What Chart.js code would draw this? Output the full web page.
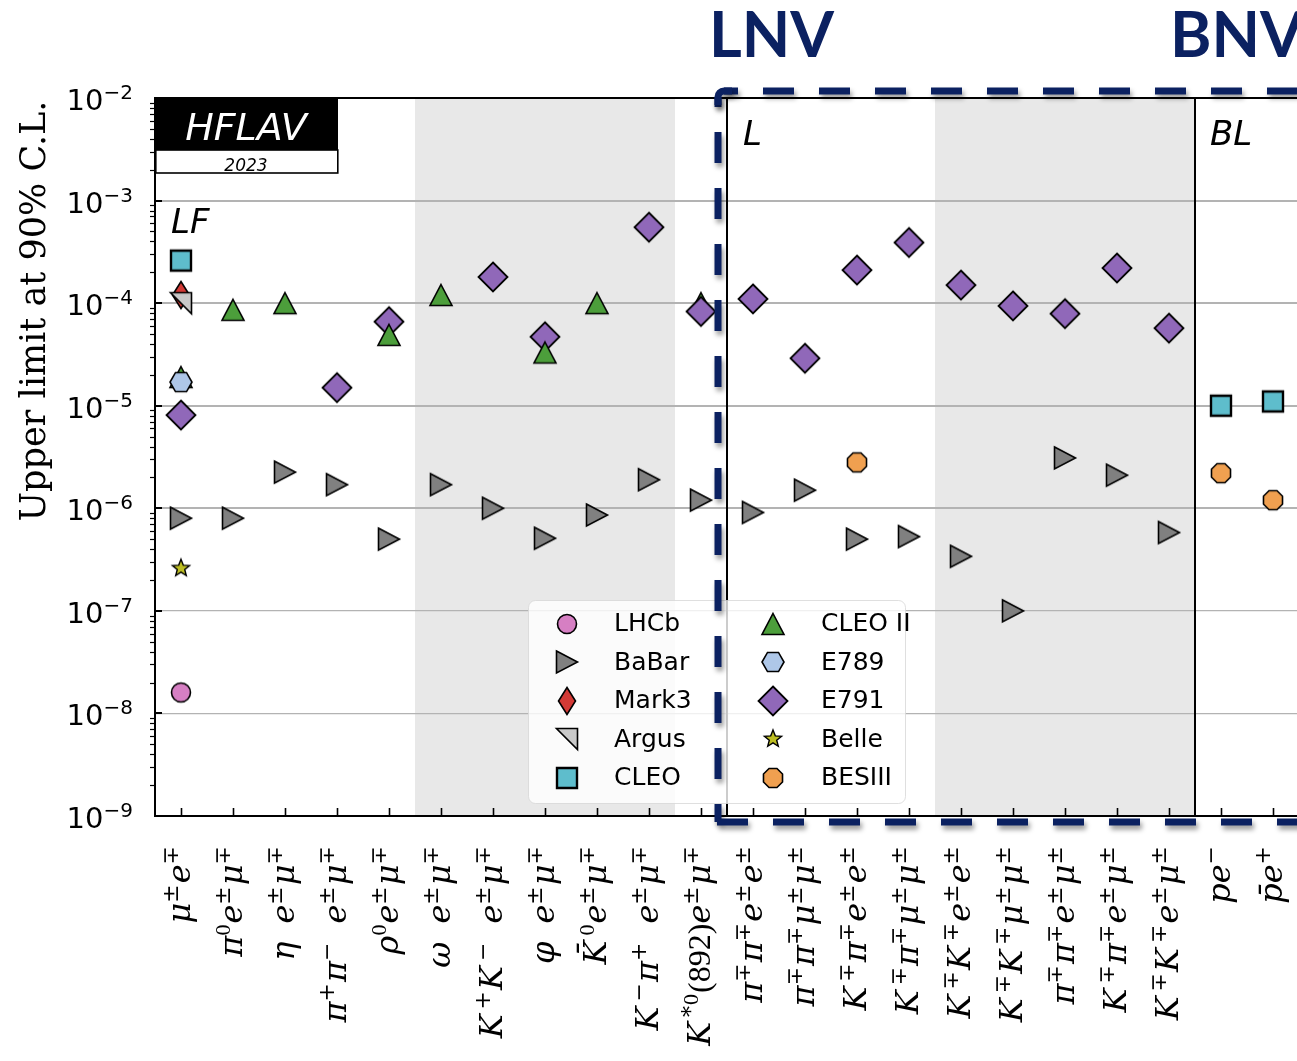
<!DOCTYPE html>
<html>
<head>
<meta charset="utf-8">
<script src="https://cdn.jsdelivr.net/npm/chart.js@4.4.1/dist/chart.umd.min.js"></script>
<style>
  html, body { margin: 0; padding: 0; background: #fff; overflow: hidden; width: 1297px; height: 1061px; }
  canvas { display: block; }
</style>
</head>
<body>
<canvas id="chart" width="1320" height="1061" style="width:1320px;height:1061px"></canvas>
<script>
// ---- Decay modes (x categories), written with ^{...} for superscripts ----
const categories = [
  'μ^{±}e^{∓}', 'π^{0}e^{±}μ^{∓}', 'η e^{±}μ^{∓}', 'π^{+}π^{−} e^{±}μ^{∓}', 'ρ^{0}e^{±}μ^{∓}',
  'ω e^{±}μ^{∓}', 'K^{+}K^{−} e^{±}μ^{∓}', 'φ e^{±}μ^{∓}', 'K̄^{0}e^{±}μ^{∓}', 'K^{−}π^{+} e^{±}μ^{∓}',
  'K^{*0}(892)e^{±}μ^{∓}',
  'π^{∓}π^{∓}e^{±}e^{±}', 'π^{∓}π^{∓}μ^{±}μ^{±}', 'K^{∓}π^{∓}e^{±}e^{±}', 'K^{∓}π^{∓}μ^{±}μ^{±}',
  'K^{∓}K^{∓}e^{±}e^{±}', 'K^{∓}K^{∓}μ^{±}μ^{±}', 'π^{∓}π^{∓}e^{±}μ^{±}', 'K^{∓}π^{∓}e^{±}μ^{±}',
  'K^{∓}K^{∓}e^{±}μ^{±}',
  'pe^{−}', 'p̄e^{+}'
];

// ---- Upper limits at 90% C.L., one array per experiment (null = no measurement) ----
const lhcb   = [1.6e-8, null, null, null, null, null, null, null, null, null, null,
                null, null, null, null, null, null, null, null, null, null, null];
const babar  = [8.0e-7, 8.0e-7, 2.25e-6, 1.7e-6, 5.0e-7, 1.7e-6, 1.0e-6, 5.1e-7, 8.6e-7, 1.9e-6, 1.2e-6,
                9.1e-7, 1.5e-6, 5.0e-7, 5.3e-7, 3.4e-7, 1.0e-7, 3.1e-6, 2.1e-6, 5.8e-7, null, null];
const mark3  = [1.2e-4, null, null, null, null, null, null, null, null, null, null,
                null, null, null, null, null, null, null, null, null, null, null];
const argus  = [1.0e-4, null, null, null, null, null, null, null, null, null, null,
                null, null, null, null, null, null, null, null, null, null, null];
const cleo   = [2.6e-4, null, null, null, null, null, null, null, null, null, null,
                null, null, null, null, null, null, null, null, null, 1.0e-5, 1.1e-5];
const cleo2  = [1.9e-5, 8.6e-5, 1.0e-4, null, 4.9e-5, 1.2e-4, null, 3.3e-5, 1.0e-4, null, null,
                null, null, null, null, null, null, null, null, null, null, null];
// CLEO II K*0 point sits underneath the E791 marker
const cleo2Kstar = [null, null, null, null, null, null, null, null, null, null, 1.0e-4,
                null, null, null, null, null, null, null, null, null, null, null];
const e789   = [1.7e-5, null, null, null, null, null, null, null, null, null, null,
                null, null, null, null, null, null, null, null, null, null, null];
const e791   = [8.1e-6, null, null, 1.5e-5, 6.6e-5, null, 1.8e-4, 4.7e-5, null, 5.5e-4, 8.3e-5,
                1.1e-4, 2.9e-5, 2.1e-4, 3.9e-4, 1.5e-4, 9.4e-5, 7.9e-5, 2.2e-4, 5.7e-5, null, null];
const belle  = [2.6e-7, null, null, null, null, null, null, null, null, null, null,
                null, null, null, null, null, null, null, null, null, null, null];
const besiii = [null, null, null, null, null, null, null, null, null, null, null,
                null, null, 2.8e-6, null, null, null, null, null, null, 2.2e-6, 1.2e-6];

// ---- Axis tick values and labels ----
const decades = [1e-9, 1e-8, 1e-7, 1e-6, 1e-5, 1e-4, 1e-3, 1e-2];
const yTickLabels = ['10^{−9}', '10^{−8}', '10^{−7}', '10^{−6}', '10^{−5}', '10^{−4}', '10^{−3}', '10^{−2}'];
const yTitle = 'Upper limit at 90% C.L.';

// ---- Marker glyphs drawn once into small canvases ----
function makeMarker(shape, fill, lw) {
  const S = 36, c = document.createElement('canvas');
  c.width = S; c.height = S;
  const g = c.getContext('2d');
  g.translate(S / 2, S / 2);
  g.beginPath();
  const poly = pts => { g.moveTo(pts[0][0], pts[0][1]); pts.slice(1).forEach(p => g.lineTo(p[0], p[1])); g.closePath(); };
  switch (shape) {
    case 'circle': g.arc(0, 0, 9.5, 0, Math.PI * 2); break;
    case 'triRight': poly([[-10.5, -11], [10.5, 0], [-10.5, 11]]); break;
    case 'triUp': poly([[0, -10.5], [11, 10.5], [-11, 10.5]]); break;
    case 'thinDiamond': poly([[0, -13.5], [8.5, 0], [0, 13.5], [-8.5, 0]]); break;
    case 'diamond': poly([[0, -14.5], [14.5, 0], [0, 14.5], [-14.5, 0]]); break;
    case 'square': g.rect(-10, -10, 20, 20); break;
    case 'cornerTri': poly([[-10.5, -10.5], [10.5, -10.5], [10.5, 10.5]]); break;
    case 'hexagon': {
      const p = [];
      for (let k = 0; k < 6; k++) { const a = k * Math.PI / 3; p.push([11 * Math.cos(a), 11 * Math.sin(a)]); }
      poly(p); break;
    }
    case 'octagon': {
      const p = [];
      for (let k = 0; k < 8; k++) { const a = Math.PI / 8 + k * Math.PI / 4; p.push([10.3 * Math.cos(a), 10.3 * Math.sin(a)]); }
      poly(p); break;
    }
    case 'star': {
      const p = [];
      for (let k = 0; k < 10; k++) {
        const a = -Math.PI / 2 + k * Math.PI / 5, r = k % 2 ? 3.9 : 9;
        p.push([r * Math.cos(a), r * Math.sin(a)]);
      }
      poly(p); break;
    }
  }
  g.fillStyle = fill; g.fill();
  g.lineWidth = lw; g.strokeStyle = '#000'; g.lineJoin = 'miter';
  g.stroke();
  return c;
}

const experiments = [
  { name: 'LHCb',    data: lhcb,   marker: makeMarker('circle', '#d67fc3', 1.6),      z: 3 },
  { name: 'BaBar',   data: babar,  marker: makeMarker('triRight', '#808080', 1.6),    z: 6 },
  { name: 'Mark3',   data: mark3,  marker: makeMarker('thinDiamond', '#d33a36', 1.6), z: 10 },
  { name: 'Argus',   data: argus,  marker: makeMarker('cornerTri', '#c9c9c9', 1.6),   z: 9 },
  { name: 'CLEO',    data: cleo,   marker: makeMarker('square', '#5ebdcc', 2.4),      z: 2 },
  { name: 'CLEO II', data: cleo2,  marker: makeMarker('triUp', '#4c9e3b', 1.6),       z: 8 },
  { name: 'E789',    data: e789,   marker: makeMarker('hexagon', '#aec7e8', 1.6),     z: 7 },
  { name: 'E791',    data: e791,   marker: makeMarker('diamond', '#9068b9', 1.8),     z: 11 },
  { name: 'Belle',   data: belle,  marker: makeMarker('star', '#bcbd22', 1.4),        z: 4 },
  { name: 'BESIII',  data: besiii, marker: makeMarker('octagon', '#f0a050', 1.6),     z: 5 }
];

const datasets = experiments.map(e => ({
  label: e.name, data: e.data, showLine: false, pointStyle: e.marker,
  pointRadius: 10, pointHoverRadius: 10, order: e.z, clip: false
}));
datasets.push({
  label: 'CLEO II', data: cleo2Kstar, showLine: false, pointStyle: experiments[5].marker,
  pointRadius: 10, pointHoverRadius: 10, order: 12, clip: false
});

// ---- Simple math-text renderer: ^{...} becomes a raised, smaller run ----
function parseMath(src) {
  const out = [];
  let i = 0;
  while (i < src.length) {
    let text, sup;
    if (src[i] === '^' && src[i + 1] === '{') {
      const j = src.indexOf('}', i);
      text = src.slice(i + 2, j); sup = true; i = j + 1;
    } else {
      let j = src.indexOf('^', i); if (j < 0) j = src.length;
      text = src.slice(i, j); sup = false; i = j;
    }
    (text.match(/.\u0304?/gu) || []).forEach(g => out.push({ g, sup }));
  }
  return out;
}

const MATH_BASE = 32, MATH_SUP = 22, MATH_SPACE = 18;
function mathFont(g, sup) {
  const size = sup ? MATH_SUP : MATH_BASE;
  if (/\p{L}/u.test(g)) return 'italic ' + size + 'px "DejaVu Serif"';
  if (/[0-9()]/.test(g)) return size + 'px "Liberation Serif"';
  return size + 'px "DejaVu Serif"';
}
function glyphAdvance(ctx, o) {
  if (o.g === ' ') return MATH_SPACE;
  let w = ctx.measureText(o.g).width;
  if (o.sup) w += 1;
  if (!o.sup && o.g[0] === 'K') w += 5;   // wide math-italic K
  return w;
}

// Draws a category label rotated to read bottom-to-top, ending at yTop
function drawXLabel(ctx, label, x, yTop) {
  const glyphs = parseMath(label);
  let W = 0;
  glyphs.forEach(o => { ctx.font = mathFont(o.g, o.sup); o.w = glyphAdvance(ctx, o); W += o.w; });
  ctx.save();
  ctx.translate(x + 9, yTop);
  ctx.rotate(-Math.PI / 2);
  ctx.fillStyle = '#000';
  ctx.textAlign = 'left';
  ctx.textBaseline = 'alphabetic';
  let cx = -W;
  glyphs.forEach(o => {
    ctx.font = mathFont(o.g, o.sup);
    if (o.g !== ' ') ctx.fillText(o.g, cx, o.sup ? -12 : 0);
    cx += o.w;
  });
  ctx.restore();
}

// Draws a power-of-ten tick label right-aligned at xRight
function drawYLabel(ctx, label, xRight, y) {
  const glyphs = parseMath(label);
  let W = 0;
  glyphs.forEach(o => { ctx.font = (o.sup ? 20 : 29) + 'px "DejaVu Sans"'; o.w = ctx.measureText(o.g).width; W += o.w; });
  let cx = xRight - W;
  ctx.fillStyle = '#000';
  ctx.textAlign = 'left';
  ctx.textBaseline = 'alphabetic';
  glyphs.forEach(o => { ctx.font = (o.sup ? 20 : 29) + 'px "DejaVu Sans"'; ctx.fillText(o.g, cx, o.sup ? y + 1 : y + 12); cx += o.w; });
}

// ---- Background bands, separators, tick marks and overlays ----
const decorations = {
  id: 'decorations',
  beforeDraw(chart) {
    const { ctx, chartArea: a, scales: { x } } = chart;
    const mid = i => (x.getPixelForValue(i) + x.getPixelForValue(i + 1)) / 2;
    ctx.save();
    ctx.fillStyle = '#e8e8e8';
    ctx.fillRect(mid(4), a.top, mid(9) - mid(4), a.bottom - a.top);
    ctx.fillRect(mid(14), a.top, mid(19) - mid(14), a.bottom - a.top);
    ctx.restore();
  },
  beforeDatasetsDraw(chart) {
    const { ctx, chartArea: a, scales: { x, y } } = chart;
    const mid = i => (x.getPixelForValue(i) + x.getPixelForValue(i + 1)) / 2;
    ctx.save();
    ctx.strokeStyle = '#000';
    // section separators
    ctx.lineWidth = 2;
    [10, 19].forEach(i => {
      const px = Math.round(mid(i));
      ctx.beginPath(); ctx.moveTo(px, a.top); ctx.lineTo(px, a.bottom); ctx.stroke();
    });
    // top frame
    ctx.beginPath(); ctx.moveTo(a.left - 1, a.top); ctx.lineTo(a.right, a.top); ctx.stroke();
    // x ticks (inward)
    ctx.lineWidth = 1.6;
    categories.forEach((_, i) => {
      const px = Math.round(x.getPixelForValue(i)) + 0.5;
      ctx.beginPath(); ctx.moveTo(px, a.bottom); ctx.lineTo(px, a.bottom - 8); ctx.stroke();
    });
    // y major ticks (inward)
    ctx.lineWidth = 2;
    decades.forEach(v => {
      const py = Math.round(y.getPixelForValue(v));
      ctx.beginPath(); ctx.moveTo(a.left, py); ctx.lineTo(a.left + 7, py); ctx.stroke();
    });
    // y minor ticks (outward)
    ctx.lineWidth = 1.2;
    for (let k = -9; k < -2; k++) {
      for (let m = 2; m <= 9; m++) {
        const py = Math.round(y.getPixelForValue(m * Math.pow(10, k))) + 0.5;
        ctx.beginPath(); ctx.moveTo(a.left - 5, py); ctx.lineTo(a.left, py); ctx.stroke();
      }
    }
    ctx.restore();
  },
  afterDatasetsDraw(chart) {
    const { ctx, chartArea: a, scales: { x } } = chart;
    const mid = i => (x.getPixelForValue(i) + x.getPixelForValue(i + 1)) / 2;
    ctx.save();

    // legend box
    ctx.beginPath();
    ctx.roundRect(528.5, 600.5, 377, 203, 7);
    ctx.fillStyle = 'rgba(255,255,255,0.8)';
    ctx.fill();
    ctx.strokeStyle = 'rgba(215,215,215,0.8)';
    ctx.lineWidth = 1;
    ctx.stroke();
    ctx.font = '25px "DejaVu Sans"';
    ctx.fillStyle = '#000';
    ctx.textBaseline = 'middle';
    ctx.textAlign = 'left';
    experiments.forEach((e, i) => {
      const col = Math.floor(i / 5), row = i % 5;
      const mx = col ? 773 : 567, tx = col ? 821 : 614;
      const my = 623.5 + row * 38.6;
      ctx.drawImage(e.marker, mx - 18, Math.round(my) - 18);
      ctx.fillText(e.name, tx, my + 1);
    });

    // HFLAV badge
    ctx.fillStyle = '#000';
    ctx.fillRect(a.left, a.top - 1, 183, 53);
    ctx.fillStyle = '#fff';
    ctx.fillRect(a.left, a.top + 52, 183, 23);
    ctx.strokeStyle = '#000';
    ctx.lineWidth = 1.6;
    ctx.strokeRect(a.left + 0.8, a.top + 52, 182, 23);
    ctx.textAlign = 'center';
    ctx.textBaseline = 'alphabetic';
    ctx.fillStyle = '#fff';
    ctx.font = 'italic 38px "DejaVu Sans"';
    ctx.fillText('HFLAV', a.left + 91, a.top + 42);
    ctx.fillStyle = '#000';
    ctx.font = 'italic 17px "DejaVu Sans"';
    ctx.fillText('2023', a.left + 91, a.top + 73);

    // section names
    ctx.textAlign = 'left';
    ctx.font = 'italic 34px "DejaVu Sans"';
    ctx.fillText('LF', a.left + 16, 233);
    ctx.fillText('L', mid(10) + 16, 145);
    ctx.fillText('BL', mid(19) + 15, 145);
    ctx.restore();
  },
  afterDraw(chart) {
    const { ctx, scales: { x, y } } = chart;
    ctx.save();
    // category labels
    categories.forEach((c, i) => drawXLabel(ctx, c, x.getPixelForValue(i), 845));
    // y tick labels
    decades.forEach((v, i) => drawYLabel(ctx, yTickLabels[i], 133, y.getPixelForValue(v)));
    // y title
    ctx.translate(45, 311);
    ctx.rotate(-Math.PI / 2);
    ctx.font = '35px "DejaVu Serif"';
    ctx.textAlign = 'center';
    ctx.textBaseline = 'alphabetic';
    ctx.fillStyle = '#000';
    ctx.fillText(yTitle, 0, 0);
    ctx.restore();

    // LNV / BNV highlight frame
    const navy = '#0b2161';
    ctx.save();
    ctx.strokeStyle = navy;
    ctx.lineWidth = 7;
    ctx.lineCap = 'butt';
    ctx.shadowColor = 'rgba(0,0,0,0.4)';
    ctx.shadowBlur = 5;
    ctx.shadowOffsetX = 2;
    ctx.shadowOffsetY = 4;
    const L = 718, T = 91, B = 822;
    ctx.setLineDash([31, 25]);
    ctx.lineDashOffset = 21;
    ctx.beginPath(); ctx.moveTo(L, T + 6); ctx.lineTo(L, B); ctx.stroke();
    ctx.lineDashOffset = 17;
    ctx.beginPath(); ctx.moveTo(L + 6, T); ctx.lineTo(1330, T); ctx.stroke();
    ctx.lineDashOffset = 0;
    ctx.beginPath(); ctx.moveTo(L - 1, B); ctx.lineTo(1330, B); ctx.stroke();
    ctx.setLineDash([]);
    ctx.beginPath(); ctx.moveTo(L, T + 14); ctx.arcTo(L, T, L + 14, T, 6); ctx.lineTo(L + 14, T); ctx.stroke();
    ctx.restore();

    ctx.save();
    ctx.fillStyle = navy;
    ctx.font = 'bold 63px Lato';
    ctx.textAlign = 'left';
    ctx.textBaseline = 'alphabetic';
    ctx.fillText('LNV', 709, 57);
    ctx.fillText('BNV', 1170, 57);
    ctx.restore();
  }
};

const ctx = document.getElementById('chart').getContext('2d');
new Chart(ctx, {
  type: 'line',
  data: { labels: categories, datasets },
  options: {
    responsive: false,
    animation: false,
    devicePixelRatio: 1,
    events: [],
    layout: { padding: { left: 0, top: 98, right: 21, bottom: 0 } },
    plugins: { legend: { display: false }, tooltip: { enabled: false } },
    scales: {
      x: {
        type: 'category',
        offset: true,
        grid: { display: false, drawTicks: false },
        border: { display: true, color: '#000', width: 2 },
        ticks: { display: false },
        afterFit(s) { s.height = 245; }
      },
      y: {
        type: 'logarithmic',
        min: 1e-9,
        max: 1e-2,
        afterBuildTicks(s) { s.ticks = decades.map(v => ({ value: v })); },
        grid: {
          color: '#b3b3b3',
          lineWidth: c => (c.tick && c.tick.value < 5e-7 ? 1.2 : 2),
          drawTicks: false
        },
        border: { display: true, color: '#000', width: 2 },
        ticks: { display: false },
        afterFit(s) { s.width = 155; }
      }
    }
  },
  plugins: [decorations]
});
</script>
</body>
</html>
